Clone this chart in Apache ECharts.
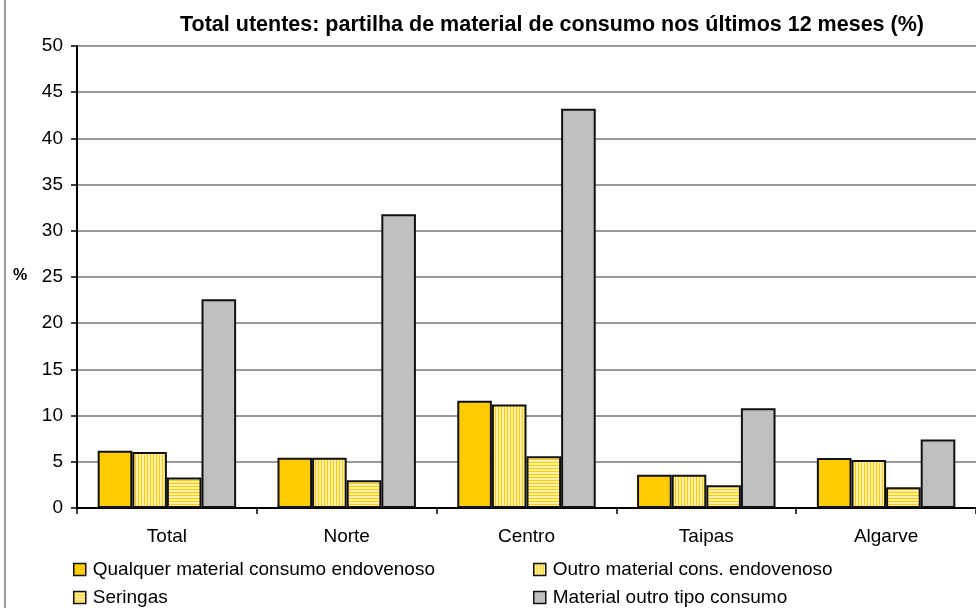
<!DOCTYPE html>
<html><head><meta charset="utf-8">
<script src="https://cdn.jsdelivr.net/npm/echarts@6/dist/echarts.min.js"></script>
<style>html,body{margin:0;padding:0;background:#fff}#c{width:976px;height:608px}</style>
</head><body><div id="c"></div>
<script>
const titleText = 'Total utentes: partilha de material de consumo nos últimos 12 meses (%)';
const categories = ['Total', 'Norte', 'Centro', 'Taipas', 'Algarve'];
const seriesNames = ['Qualquer material consumo endovenoso', 'Outro material cons. endovenoso', 'Seringas', 'Material outro tipo consumo'];
const qualquer = [6.2, 5.45, 11.6, 3.6, 5.4];
const outro = [6.05, 5.45, 11.2, 3.6, 5.2];
const seringas = [3.3, 3.0, 5.6, 2.45, 2.25];
const materialOutro = [22.6, 31.8, 43.2, 10.8, 7.4];
const yTicks = [0, 5, 10, 15, 20, 25, 30, 35, 40, 45, 50];

function stripe(vertical) {
  const c = document.createElement('canvas');
  c.width = 3; c.height = 3;
  const g = c.getContext('2d');
  g.fillStyle = '#FFF0A8'; g.fillRect(0, 0, 3, 3);
  g.fillStyle = '#FFCC00';
  if (vertical) g.fillRect(0, 0, 1, 3); else g.fillRect(0, 0, 3, 1);
  return { image: c, repeat: 'repeat' };
}
const fills = ['#FFCC00', stripe(true), stripe(false), '#C0C0C0'];
const datas = [qualquer, outro, seringas, materialOutro];

const legendPos = [[73, 560], [533, 560], [73, 588], [533, 588]];
const font = 'Liberation Sans';

const chart = echarts.init(document.getElementById('c'));
chart.setOption({
  animation: false,
  backgroundColor: '#fff',
  title: { text: titleText, left: 547, top: 9, textAlign: 'center',
    textStyle: { fontFamily: font, fontWeight: 'bold', fontSize: 21.5, color: '#000' } },
  graphic: [
    { type: 'line', shape: { x1: 5, y1: 0, x2: 5, y2: 608 }, style: { stroke: '#999', lineWidth: 2 } },
    { type: 'text', left: 13, top: 268, style: { text: '%', font: 'bold 16px Liberation Sans', fill: '#000' } }
  ],
  legend: seriesNames.map((n, i) => ({
    left: legendPos[i][0], top: legendPos[i][1], itemWidth: 12, itemHeight: 12,
    icon: 'rect', data: [n], padding: 0,
    itemStyle: { borderColor: '#111', borderWidth: 1.5 },
    textStyle: { fontFamily: font, fontSize: 19, color: '#000', padding: [0, 0, 0, 2] }
  })),
  grid: { left: 77, right: -2, top: 46, bottom: 100, containLabel: false },
  xAxis: {
    type: 'category', data: categories,
    axisLine: { lineStyle: { color: '#000', width: 2 } },
    axisTick: { show: true, length: 6, lineStyle: { color: '#000', width: 1.5 } },
    axisLabel: { fontFamily: font, fontSize: 19, color: '#000', margin: 19 }
  },
  yAxis: {
    type: 'value', min: 0, max: 50, interval: 5,
    axisLine: { show: true, lineStyle: { color: '#000', width: 2 } },
    axisTick: { show: true, length: 6, lineStyle: { color: '#000', width: 1.5 } },
    splitLine: { lineStyle: { color: '#999', width: 2 } },
    axisLabel: { fontFamily: font, fontSize: 19, color: '#000', margin: 14,
      formatter: v => yTicks.includes(v) ? String(v) : '' }
  },
  series: seriesNames.map((n, i) => ({
    name: n, type: 'bar', data: datas[i],
    barGap: '0%', barCategoryGap: '23%',
    itemStyle: { color: fills[i], borderColor: '#111', borderWidth: 2 }
  }))
});
</script></body></html>
